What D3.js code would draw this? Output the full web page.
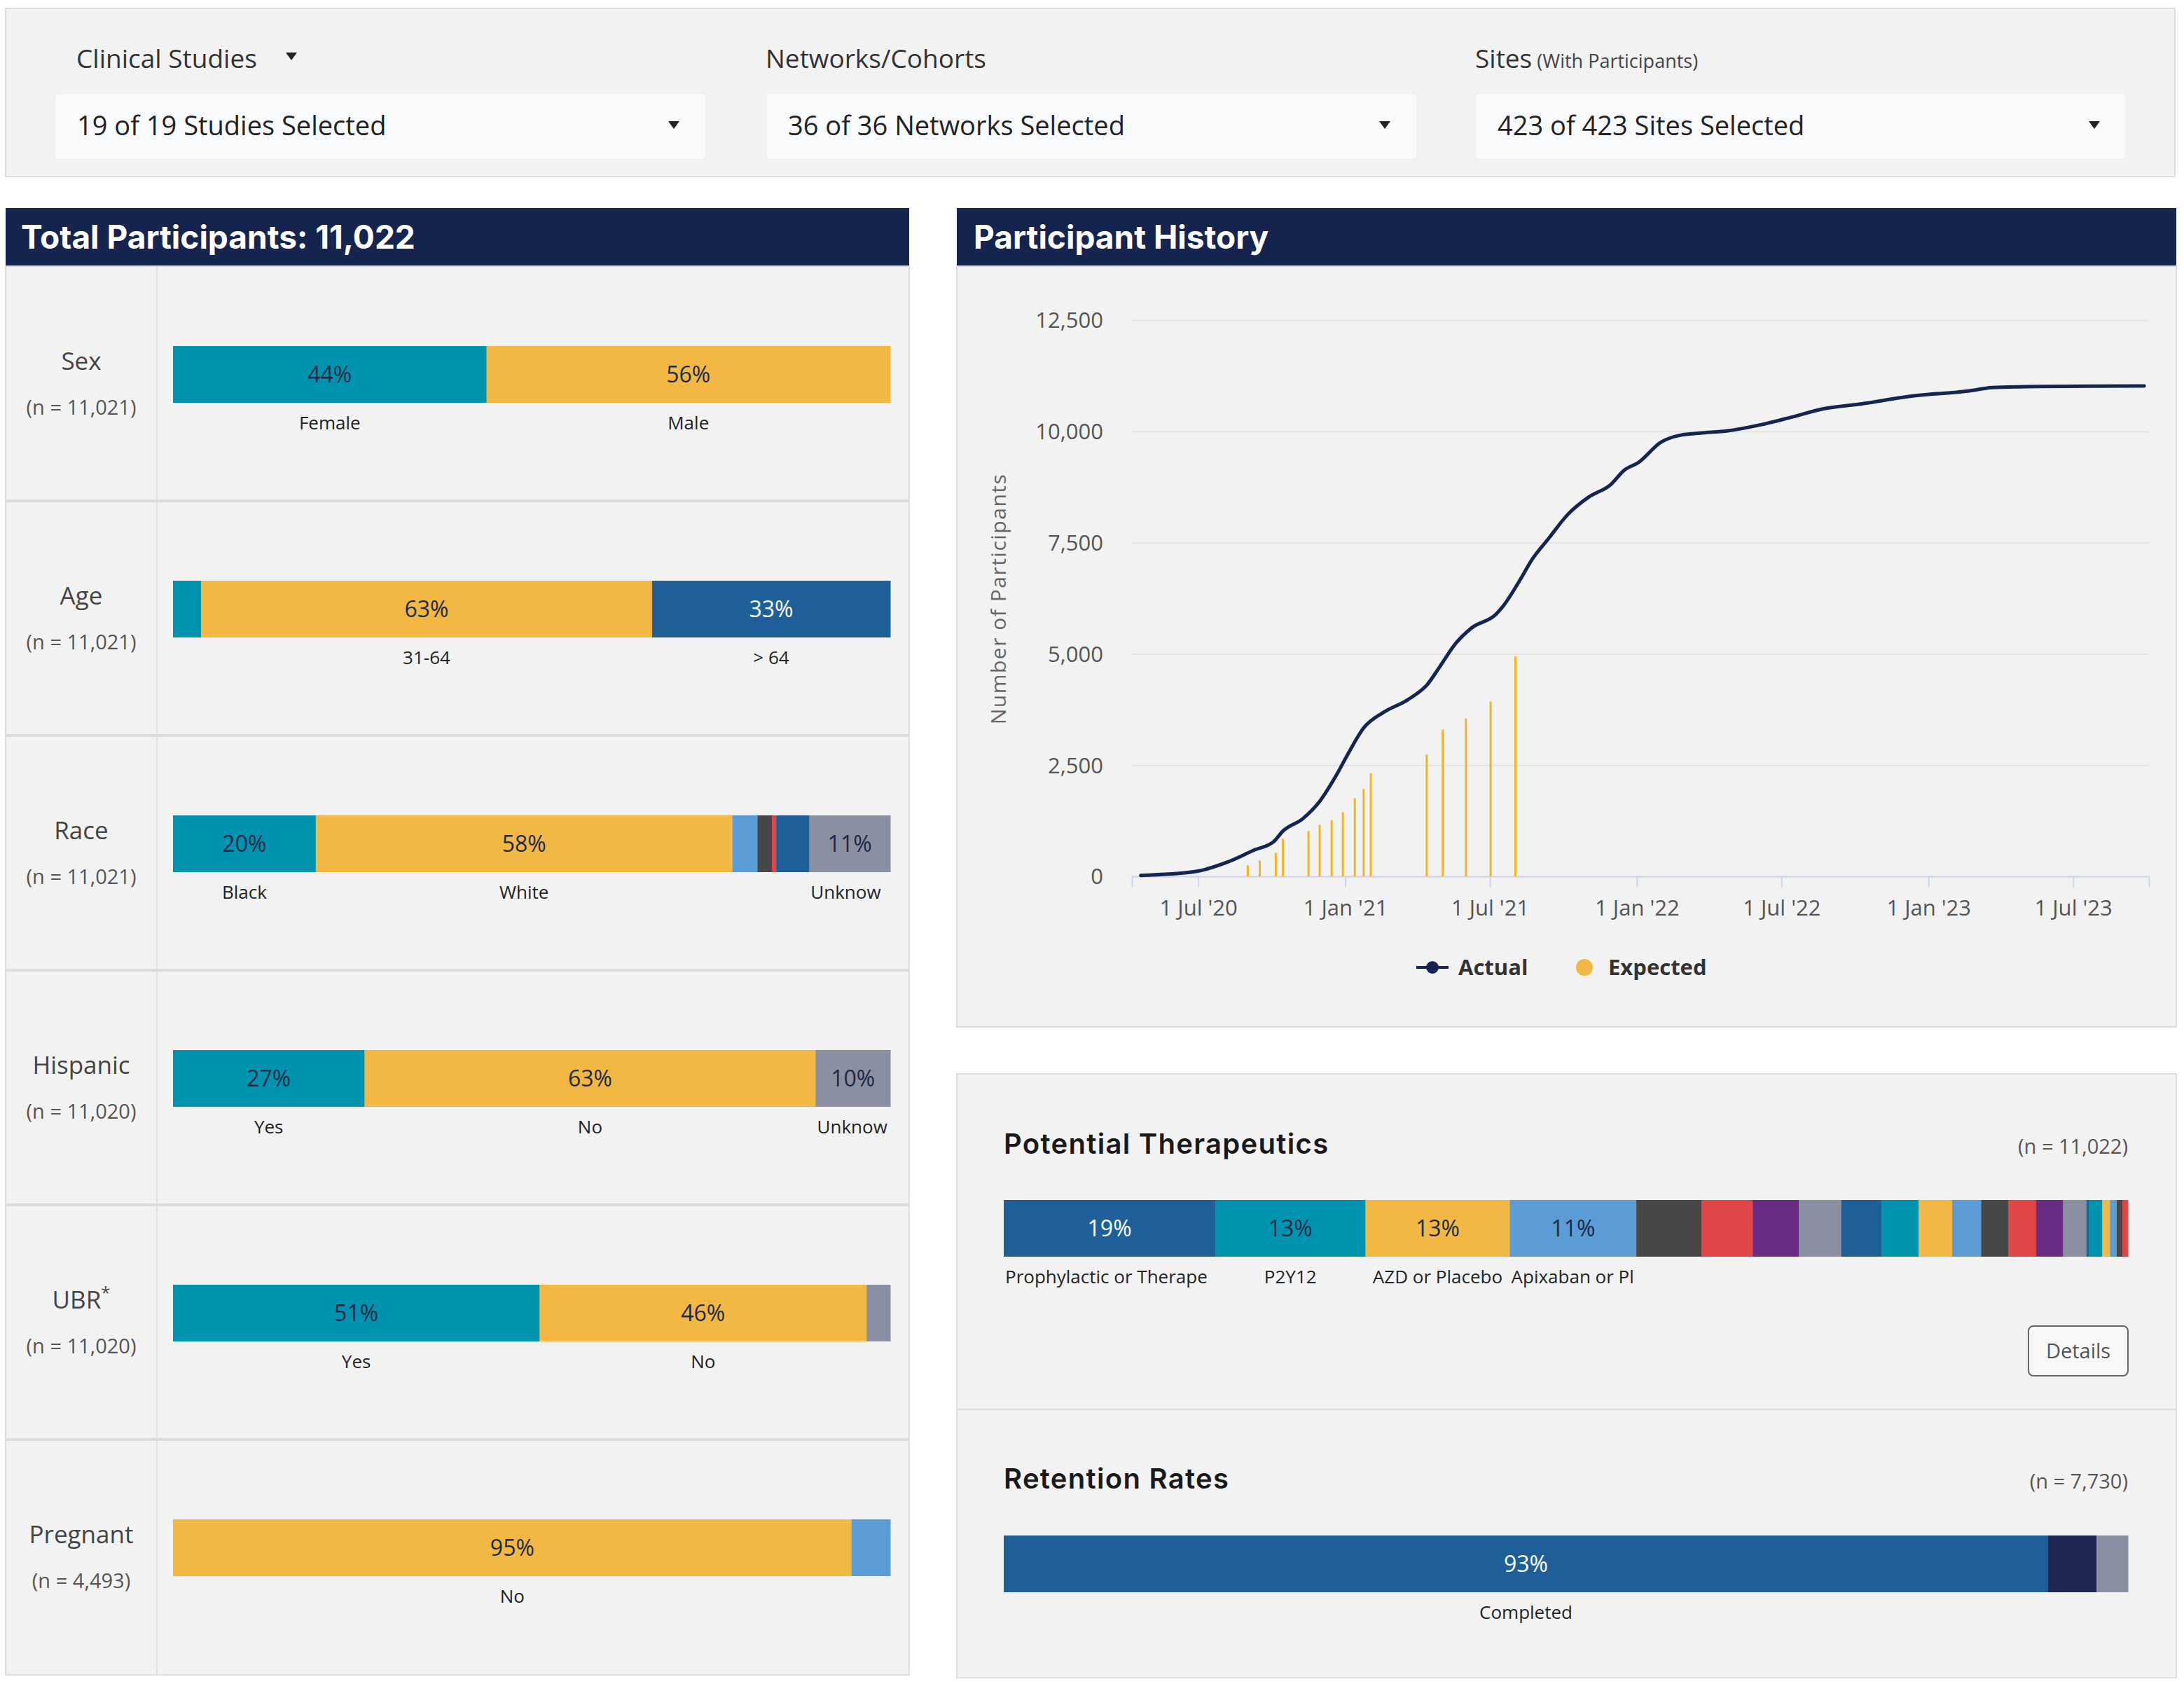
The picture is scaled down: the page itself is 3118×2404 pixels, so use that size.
<!DOCTYPE html>
<html>
<head>
<meta charset="utf-8">
<title>Participant dashboard</title>
<script src="https://d3js.org/d3.v7.min.js"></script>
<style>
body{margin:0; background:#fff;}
svg{display:block; font-family:"Open Sans", sans-serif;}
.cat{font-size:26px; fill:#222;}
.tick text{font-family:"Open Sans", sans-serif;}
</style>
</head>
<body>
<script>
// ---- data ----
var filterLabels = ["Clinical Studies", "Networks/Cohorts", "Sites"];
var filterValues = ["19 of 19 Studies Selected", "36 of 36 Networks Selected", "423 of 423 Sites Selected"];
var totalParticipants = 11022;

var demoNames = ["Sex", "Age", "Race", "Hispanic", "UBR", "Pregnant"];
var demoN = [11021, 11021, 11021, 11020, 11020, 4493];

var sexCats = ["Female", "Male"];
var sexPct = [43.7, 56.3];
var ageCats = ["18-30", "31-64", "> 64"];
var agePct = [3.9, 62.9, 33.2];
var raceCats = ["Black", "White", "Asian", "American Indian", "Pacific Islander", "Multiple", "Unknown"];
var racePct = [19.9, 58.1, 3.5, 2.0, 0.6, 4.6, 11.3];
var hispCats = ["Yes", "No", "Unknown"];
var hispPct = [26.7, 62.9, 10.4];
var ubrCats = ["Yes", "No", "Unknown"];
var ubrPct = [51.1, 45.6, 3.3];
var pregCats = ["No", "Yes"];
var pregPct = [94.6, 5.4];

var histDates = ["2020-04-20", "2020-06-27", "2020-08-06", "2020-09-10", "2020-10-03", "2020-10-15",
  "2020-11-09", "2020-11-30", "2020-12-20", "2021-01-04", "2021-01-24", "2021-02-18", "2021-03-20",
  "2021-04-14", "2021-04-29", "2021-05-19", "2021-06-08", "2021-07-09", "2021-07-19", "2021-08-08",
  "2021-08-23", "2021-09-12", "2021-10-07", "2021-11-02", "2021-11-29", "2021-12-16", "2022-01-03",
  "2022-01-31", "2022-02-25", "2022-03-21", "2022-04-25", "2022-06-04", "2022-07-10", "2022-08-24",
  "2022-10-08", "2022-12-14", "2023-02-19", "2023-03-22", "2023-05-19", "2023-07-25", "2023-09-28"];
var histActual = [20, 105, 316, 597, 772, 1018,
  1298, 1685, 2246, 2737, 3334, 3685, 3966,
  4317, 4702, 5228, 5581, 5895, 6106, 6667,
  7124, 7580, 8141, 8527, 8800, 9124, 9300,
  9756, 9916, 9961, 10013, 10144, 10301, 10512,
  10616, 10800, 10905, 10983, 11009, 11015, 11022];
var expDates = ["2020-09-01", "2020-09-16", "2020-10-06", "2020-10-15", "2020-11-16", "2020-11-30",
  "2020-12-15", "2020-12-29", "2021-01-13", "2021-01-24", "2021-02-02", "2021-04-13", "2021-05-03",
  "2021-06-01", "2021-07-02", "2021-08-02"];
var expValues = [246, 352, 527, 843, 1018, 1159, 1264, 1440, 1755, 1965, 2317, 2737, 3299, 3545, 3930, 4949];
var histXTicks = ["2020-07-01", "2021-01-01", "2021-07-01", "2022-01-01", "2022-07-01", "2023-01-01", "2023-07-01"];
var histYTicks = [0, 2500, 5000, 7500, 10000, 12500];

var therCats = ["Prophylactic or Therapeutic Anticoagulation", "P2Y12", "AZD or Placebo", "Apixaban or Placebo",
  "Therapeutic 5", "Therapeutic 6", "Therapeutic 7", "Therapeutic 8", "Therapeutic 9", "Therapeutic 10",
  "Therapeutic 11", "Therapeutic 12", "Therapeutic 13", "Therapeutic 14", "Therapeutic 15", "Therapeutic 16",
  "Therapeutic 17", "Therapeutic 18", "Therapeutic 19", "Therapeutic 20", "Therapeutic 21", "Therapeutic 22"];
var therPct = [18.9, 13.4, 12.9, 11.3, 5.8, 4.6, 4.1, 3.8, 3.6, 3.3, 3.0, 2.6, 2.4, 2.5, 2.4, 2.1,
  0.2, 1.2, 0.7, 0.6, 0.5, 0.5];
var therN = 11022;

var retCats = ["Completed", "Withdrawn", "Lost to Follow-up"];
var retPct = [92.9, 4.3, 2.8];
var retN = 7730;

// ---- style ----
var C = {teal:"#0093b0", orange:"#f3b843", dblue:"#1f5f99", lblue:"#5b9bd6", dgray:"#474747",
  red:"#e04646", purple:"#6a2c86", gray:"#8a8fa1", navy:"#1c2753", head:"#152550"};
var demoColors = [
  [C.teal, C.orange],
  [C.teal, C.orange, C.dblue],
  [C.teal, C.orange, C.lblue, C.dgray, C.red, C.dblue, C.gray],
  [C.teal, C.orange, C.gray],
  [C.teal, C.orange, C.gray],
  [C.orange, C.lblue]
];
var demoCats = [sexCats, ageCats, raceCats, hispCats, ubrCats, pregCats];
var demoPct = [sexPct, agePct, racePct, hispPct, ubrPct, pregPct];
var cycle = [C.dblue, C.teal, C.orange, C.lblue, C.dgray, C.red, C.purple, C.gray];

var W = 3118, H = 2404;
var svg = d3.select("body").append("svg").attr("width", W).attr("height", H);
svg.append("rect").attr("width", W).attr("height", H).attr("fill", "#fff");
var fmt = d3.format(",");

function caret(g, cx, cy) {
  g.append("path").attr("d", "M" + (cx - 8) + "," + (cy - 5) + "L" + (cx + 8) + "," + (cy - 5) + "L" + cx + "," + (cy + 6) + "Z")
    .attr("fill", "#222");
}

// stacked percentage bar
function stackBar(g, x0, y0, w, h, cats, vals, colors, labelY) {
  var total = d3.sum(vals);
  var x = d3.scaleLinear().domain([0, total]).range([x0, x0 + w]);
  var ends = Array.from(d3.cumsum(vals));
  var segs = cats.map(function(c, i) {
    return {cat: c, v: vals[i], a: ends[i] - vals[i], b: ends[i], color: colors[i % colors.length]};
  });
  g.selectAll(null).data(segs).enter().append("rect")
    .attr("x", function(d) { return x(d.a); })
    .attr("y", y0)
    .attr("width", function(d) { return x(d.b) - x(d.a) + 0.5; })
    .attr("height", h)
    .attr("fill", function(d) { return d.color; });
  var big = segs.filter(function(d) { return d.v / total >= 0.095; });
  g.selectAll(null).data(big).enter().append("text")
    .attr("x", function(d) { return (x(d.a) + x(d.b)) / 2; })
    .attr("y", y0 + h / 2 + 11)
    .attr("text-anchor", "middle")
    .style("font-size", "32px")
    .attr("fill", function(d) { return d.color == C.dblue ? "#fff" : "#1d2a44"; })
    .text(function(d) { return Math.round(d.v / total * 100) + "%"; });
  big.forEach(function(d) {
    var sx = x(d.a), sw = x(d.b) - x(d.a);
    var t = g.append("text").attr("class", "cat")
      .attr("x", sx + sw / 2).attr("y", labelY).attr("text-anchor", "middle").text(d.cat);
    // too long: left align and cut at the segment edge
    if (t.node().getComputedTextLength() > sw - 6) {
      t.attr("x", sx + 2).attr("text-anchor", "start");
      var s = d.cat;
      while (s.length > 1 && t.node().getComputedTextLength() > sw - 3) {
        s = s.slice(0, -1);
        t.text(s);
      }
    }
  });
}

// ---- filter panel ----
var fp = svg.append("g");
fp.append("rect").attr("x", 8).attr("y", 12).attr("width", 3097).attr("height", 240)
  .attr("fill", "#f2f2f2").attr("stroke", "#dddddd").attr("stroke-width", 2);
var boxX = [78, 1093, 2106], labX = [109, 1093, 2106];
filterLabels.forEach(function(l, i) {
  var t = fp.append("text").attr("x", labX[i]).attr("y", 97).style("font-size", "37px").attr("fill", "#333").text(l);
  if (i == 2) t.append("tspan").style("font-size", "27px").attr("fill", "#444").text(" (With Participants)");
  fp.append("rect").attr("x", boxX[i]).attr("y", 133).attr("width", 930).attr("height", 95).attr("rx", 6)
    .attr("fill", "#f8f9fa").attr("stroke", "#eceef0").attr("stroke-width", 1.5);
  fp.append("text").attr("x", boxX[i] + 32).attr("y", 193).style("font-size", "38px").attr("fill", "#222").text(filterValues[i]);
  caret(fp, boxX[i] + 884, 178);
});
caret(fp, 416, 80);

// ---- headers ----
svg.append("rect").attr("x", 8).attr("y", 297).attr("width", 1290).attr("height", 83).attr("fill", C.head);
svg.append("text").attr("x", 30).attr("y", 355).style("font-family", "Inter, sans-serif").style("font-weight", 700)
  .style("font-size", "46px").attr("fill", "#fff").text("Total Participants: " + fmt(totalParticipants));
svg.append("rect").attr("x", 1366).attr("y", 297).attr("width", 1741).attr("height", 83).attr("fill", C.head);
svg.append("text").attr("x", 1390).attr("y", 355).style("font-family", "Inter, sans-serif").style("font-weight", 700)
  .style("font-size", "46px").attr("fill", "#fff").text("Participant History");

// ---- demographics ----
var left = svg.append("g");
var rowTop = 380, rowH = 335;
left.append("rect").attr("x", 8).attr("y", rowTop).attr("width", 1290).attr("height", 2011)
  .attr("fill", "#f2f2f2").attr("stroke", "#dddddd").attr("stroke-width", 2);
left.append("line").attr("x1", 224).attr("x2", 224).attr("y1", rowTop).attr("y2", 2391)
  .attr("stroke", "#e0e0e0").attr("stroke-width", 2);
demoNames.forEach(function(name, i) {
  var top = rowTop + i * rowH;
  if (i > 0) left.append("line").attr("x1", 8).attr("x2", 1298).attr("y1", top).attr("y2", top)
    .attr("stroke", "#dcdcdc").attr("stroke-width", 4);
  var t = left.append("text").attr("x", 116).attr("y", top + 148).attr("text-anchor", "middle")
    .style("font-size", "35px").attr("fill", "#444").text(name);
  if (name == "UBR") t.append("tspan").attr("dy", -14).style("font-size", "24px").text("*");
  left.append("text").attr("x", 116).attr("y", top + 212).attr("text-anchor", "middle")
    .style("font-size", "29px").attr("fill", "#555").text("(n = " + fmt(demoN[i]) + ")");
  stackBar(left, 247, top + 114, 1024, 81, demoCats[i], demoPct[i], demoColors[i], top + 114 + 81 + 38);
});

// ---- participant history ----
var hp = svg.append("g");
hp.append("rect").attr("x", 1366).attr("y", 380).attr("width", 1741).attr("height", 1086)
  .attr("fill", "#f2f2f2").attr("stroke", "#dddddd").attr("stroke-width", 2);
var parse = d3.timeParse("%Y-%m-%d");
var x = d3.scaleTime().domain([parse("2020-04-09"), parse("2023-10-04")]).range([1616, 3068]);
var y = d3.scaleLinear().domain([0, 12500]).range([1251, 457]);

hp.append("g").attr("transform", "translate(1616,0)")
  .call(d3.axisLeft(y).tickValues(histYTicks).tickSize(-1452).tickFormat(""))
  .call(function(g) {
    g.select(".domain").remove();
    g.selectAll(".tick line").attr("stroke", "#e4e4e4").attr("stroke-width", 2);
  });
hp.append("g").attr("transform", "translate(1575,0)")
  .call(d3.axisLeft(y).tickValues(histYTicks).tickSize(0).tickPadding(0).tickFormat(fmt))
  .call(function(g) {
    g.select(".domain").remove();
    g.selectAll(".tick text").style("font-size", "31px").attr("fill", "#555").attr("dy", "0.35em");
  });
hp.append("g").attr("transform", "translate(0,1251)")
  .call(d3.axisBottom(x).tickValues(histXTicks.map(parse)).tickSize(16).tickPadding(18)
    .tickFormat(function(d) { return "1 " + d3.timeFormat("%b '%y")(d); }))
  .call(function(g) {
    g.select(".domain").attr("stroke", "#ccd6eb").attr("stroke-width", 2);
    g.selectAll(".tick line").attr("stroke", "#ccd6eb").attr("stroke-width", 2);
    g.selectAll(".tick text").style("font-size", "31px").attr("fill", "#555");
  });
hp.append("text").attr("transform", "translate(1436,855) rotate(-90)").attr("text-anchor", "middle")
  .style("font-size", "30px").style("letter-spacing", "1.5px").attr("fill", "#666").text("Number of Participants");

hp.selectAll(null).data(expDates).enter().append("line")
  .attr("x1", function(d) { return x(parse(d)); })
  .attr("x2", function(d) { return x(parse(d)); })
  .attr("y1", y(0))
  .attr("y2", function(d, i) { return y(expValues[i]); })
  .attr("stroke", "#f5b324").attr("stroke-width", 3);

var line = d3.line().curve(d3.curveMonotoneX)
  .x(function(d, i) { return x(parse(histDates[i])); })
  .y(function(d) { return y(d); });
hp.append("path").attr("d", line(histActual)).attr("fill", "none")
  .attr("stroke", C.head).attr("stroke-width", 5).attr("stroke-linejoin", "round").attr("stroke-linecap", "round");

// legend
hp.append("line").attr("x1", 2022).attr("x2", 2068).attr("y1", 1381).attr("y2", 1381)
  .attr("stroke", C.head).attr("stroke-width", 4);
hp.append("circle").attr("cx", 2045).attr("cy", 1381).attr("r", 9).attr("fill", C.head);
hp.append("text").attr("x", 2082).attr("y", 1392).style("font-size", "31px").style("font-weight", 700)
  .attr("fill", "#333").text("Actual");
hp.append("circle").attr("cx", 2262).attr("cy", 1381).attr("r", 12).attr("fill", C.orange);
hp.append("text").attr("x", 2296).attr("y", 1392).style("font-size", "31px").style("font-weight", 700)
  .attr("fill", "#333").text("Expected");

// ---- potential therapeutics ----
var tp = svg.append("g");
tp.append("rect").attr("x", 1366).attr("y", 1533).attr("width", 1741).attr("height", 479)
  .attr("fill", "#f2f2f2").attr("stroke", "#dddddd").attr("stroke-width", 2);
tp.append("text").attr("x", 1433).attr("y", 1647).style("font-family", "Inter, sans-serif").style("font-weight", 600)
  .style("font-size", "40px").style("letter-spacing", "1.3px").attr("fill", "#1a1a1a").text("Potential Therapeutics");
tp.append("text").attr("x", 3038).attr("y", 1647).attr("text-anchor", "end")
  .style("font-size", "29px").attr("fill", "#555").text("(n = " + fmt(therN) + ")");
stackBar(tp, 1433, 1713, 1605, 81, therCats, therPct, cycle, 1832);
tp.append("rect").attr("x", 2896).attr("y", 1893).attr("width", 142).attr("height", 71).attr("rx", 7)
  .attr("fill", "#f7f7f7").attr("stroke", "#666").attr("stroke-width", 2);
tp.append("text").attr("x", 2967).attr("y", 1939).attr("text-anchor", "middle")
  .style("font-size", "29px").attr("fill", "#555").text("Details");

// ---- retention ----
var rp = svg.append("g");
rp.append("rect").attr("x", 1366).attr("y", 2012).attr("width", 1741).attr("height", 383)
  .attr("fill", "#f2f2f2").attr("stroke", "#dddddd").attr("stroke-width", 2);
rp.append("text").attr("x", 1433).attr("y", 2125).style("font-family", "Inter, sans-serif").style("font-weight", 600)
  .style("font-size", "40px").style("letter-spacing", "1.3px").attr("fill", "#1a1a1a").text("Retention Rates");
rp.append("text").attr("x", 3038).attr("y", 2125).attr("text-anchor", "end")
  .style("font-size", "29px").attr("fill", "#555").text("(n = " + fmt(retN) + ")");
stackBar(rp, 1433, 2192, 1605, 81, retCats, retPct, [C.dblue, C.navy, C.gray], 2311);
</script>
</body>
</html>
